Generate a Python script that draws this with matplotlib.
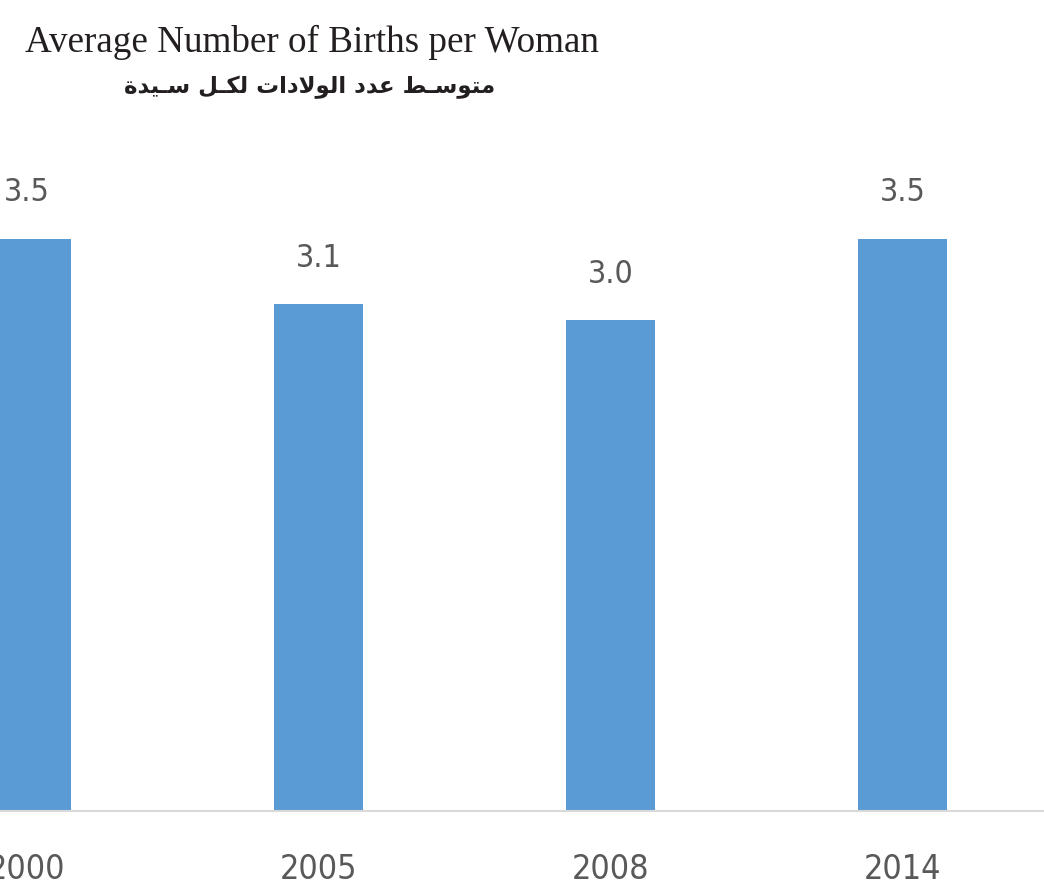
import matplotlib
matplotlib.use("Agg")
import matplotlib.pyplot as plt
from matplotlib import font_manager

years = ["2000", "2005", "2008", "2014"]
births = [3.5, 3.1, 3.0, 3.5]
labels = ["3.5", "3.1", "3.0", "3.5"]

title_en = "Average Number of Births per Woman"
title_ar = "متوسـط عدد الولادات لكـل سـيدة"

# presentation forms: isolated, final, initial, medial
FORMS = {
    "ا": ("\uFE8D", "\uFE8E", None, None),
    "ة": ("\uFE93", "\uFE94", None, None),
    "د": ("\uFEA9", "\uFEAA", None, None),
    "و": ("\uFEED", "\uFEEE", None, None),
    "لا": ("\uFEFB", "\uFEFC", None, None),
    "ت": ("\uFE95", "\uFE96", "\uFE97", "\uFE98"),
    "س": ("\uFEB1", "\uFEB2", "\uFEB3", "\uFEB4"),
    "ط": ("\uFEC1", "\uFEC2", "\uFEC3", "\uFEC4"),
    "ع": ("\uFEC9", "\uFECA", "\uFECB", "\uFECC"),
    "ك": ("\uFED9", "\uFEDA", "\uFEDB", "\uFEDC"),
    "ل": ("\uFEDD", "\uFEDE", "\uFEDF", "\uFEE0"),
    "م": ("\uFEE1", "\uFEE2", "\uFEE3", "\uFEE4"),
    "ي": ("\uFEF1", "\uFEF2", "\uFEF3", "\uFEF4"),
    "ـ": ("\u0640", "\u0640", "\u0640", "\u0640"),
}


def shape(text):
    tokens = []
    i = 0
    while i < len(text):
        if text[i] == "ل" and i + 1 < len(text) and text[i + 1] == "ا":
            tokens.append("لا")
            i += 2
        else:
            tokens.append(text[i])
            i += 1
    out = []
    for k, t in enumerate(tokens):
        if t not in FORMS:
            out.append(t)
            continue
        iso, fin, ini, med = FORMS[t]
        prev = k > 0 and tokens[k - 1] in FORMS and FORMS[tokens[k - 1]][2] is not None
        nxt = ini is not None and k + 1 < len(tokens) and tokens[k + 1] in FORMS
        if prev and nxt:
            out.append(med)
        elif nxt:
            out.append(ini)
        elif prev:
            out.append(fin)
        else:
            out.append(iso)
    return "".join(out)[::-1]


# narrow font for numbers if one is around
num_font = {"family": "DejaVu Sans"}
names = {f.name for f in font_manager.fontManager.ttflist}
for f in font_manager.fontManager.ttflist:
    if f.name == "DejaVu Sans" and f.stretch == "condensed" and f.weight in (400, "normal"):
        num_font = {"family": "DejaVu Sans", "stretch": "condensed"}
        break
if "Liberation Sans Narrow" in names:
    num_font = {"family": "Liberation Sans Narrow"}

W, H = 1044, 890
fig = plt.figure(figsize=(W / 100, H / 100), dpi=100)
ax = fig.add_axes([0, 79 / H, 1, (811 - 120) / H])

x = range(len(years))
ax.bar(x, births, width=0.305, color="#5b9bd5")
ax.set_xlim(-0.0908, 3.485)
ax.set_ylim(0, 4.226)

for i, v in enumerate(births):
    ax.annotate(labels[i], (i, v), xytext=(0, 33), textcoords="offset points",
                ha="center", va="center", fontsize=23, color="#595959",
                **num_font)

ax.set_xticks(list(x))
ax.set_xticklabels(years, fontsize=24.5, color="#595959", **num_font)
ax.tick_params(axis="x", length=0, pad=30)
ax.set_yticks([])
for s in ["top", "right", "left"]:
    ax.spines[s].set_visible(False)
ax.spines["bottom"].set_color("#d9d9d9")
ax.spines["bottom"].set_linewidth(1.5)

fig.text(25 / W, 1 - 52 / H, title_en, ha="left", va="baseline",
         fontsize=26.7, family="Liberation Serif", color="#231f20")
fig.text(310 / W, 1 - 87 / H, shape(title_ar), ha="center", va="center",
         fontsize=16.5, fontweight="bold", family="DejaVu Sans", color="#231f20")

fig.savefig("out.png", dpi=100)
